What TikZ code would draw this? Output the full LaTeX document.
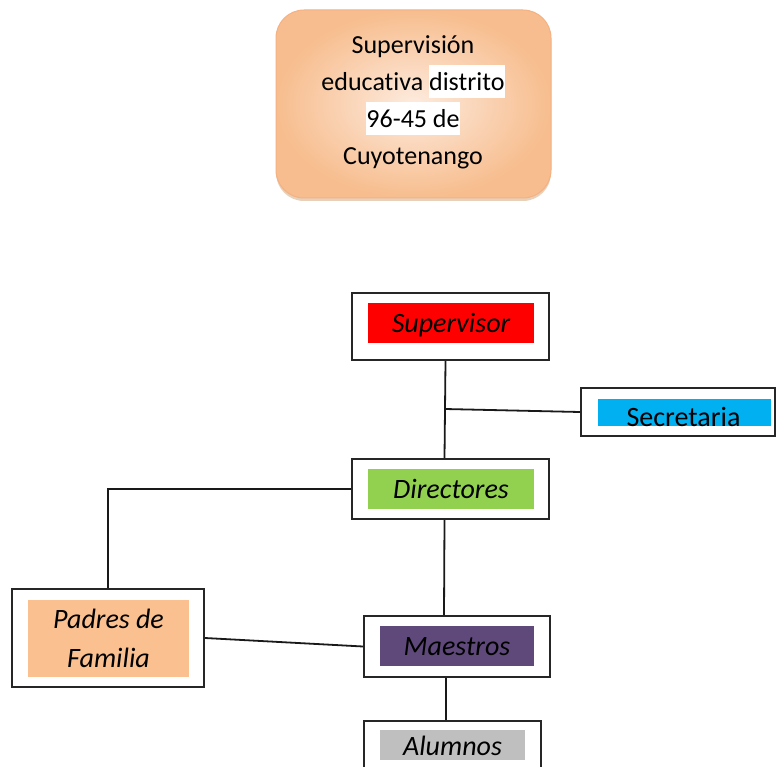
\documentclass[tikz,border=0pt]{standalone}
\usepackage{fontspec}
\setmainfont{Carlito}[Ligatures=NoCommon]
\usetikzlibrary{shadows}

\definecolor{naranjaClaro}{HTML}{FDEBDE}
\definecolor{naranjaFuerte}{HTML}{F7BD8E}
\definecolor{naranjaBorde}{HTML}{F4B183}
\definecolor{rojoSup}{HTML}{FF0000}
\definecolor{azulSec}{HTML}{00B0F0}
\definecolor{verdeDir}{HTML}{92D050}
\definecolor{moradoMae}{HTML}{5F497A}
\definecolor{durazno}{HTML}{FAC090}
\definecolor{grisAlu}{HTML}{BFBFBF}

% fondo blanco detras de una palabra
\newcommand{\resaltar}[1]{{\setlength{\fboxsep}{0pt}\colorbox{white}{\rule[-7pt]{0pt}{33pt}#1}}}

\begin{document}
\begin{tikzpicture}[x=1pt,y=-1pt,
		caja/.style={draw=black!85, line width=2pt, fill=white, inner sep=0pt},
		relleno/.style={inner sep=0pt, text height=18pt, text depth=0pt, font=\fontsize{28}{34}\selectfont\itshape},
		linea/.style={line width=1.8pt, black!90}]
		\clip (0,0) rectangle (776,767);
		% Recuadro de la supervision
		\node[draw=naranjaBorde, line width=1pt, rounded corners=28pt, minimum width=275pt, minimum height=188pt,
		inner color=naranjaClaro, outer color=naranjaFuerte,
		drop shadow={shadow xshift=0pt, shadow yshift=-3pt, fill=brown!60, opacity=0.6}] (dist) at (413.5,104) {};
		\node[align=center, font=\fontsize{26}{37}\selectfont] (disttxt) at (413,102.5)
		{Supervisión\\educativa \resaltar{distrito}\\\resaltar{96-45 de}\\Cuyotenango};
		% Cargos
		\node[caja, minimum width=197pt, minimum height=67pt] (sup) at (450.5,326.5) {};
		\node[relleno, fill=rojoSup, minimum width=166pt, minimum height=40pt] (supfill) at (451,323) {Supervisor};
		\node[caja, minimum width=194pt, minimum height=48pt] (sec) at (678,412) {};
		\node[fill=azulSec, inner sep=0pt, minimum width=173pt, minimum height=27pt] (secfill) at (684.5,412.5) {};
		\node[anchor=base, inner sep=0pt, font=\fontsize{28}{34}\selectfont] (sectxt) at (683.5,426) {Secretaria};
		\node[caja, minimum width=197pt, minimum height=60pt] (dir) at (450.5,489) {};
		\node[relleno, fill=verdeDir, minimum width=166pt, minimum height=40pt] (dirfill) at (451,489) {Directores};
		\node[caja, minimum width=192pt, minimum height=98pt] (pad) at (108,638) {};
		\node[relleno, fill=durazno, minimum width=161pt, minimum height=77pt, align=center, text height=, text depth=,
		font=\fontsize{28}{39}\selectfont\itshape] (padfill) at (108.5,638.5) {Padres de\\Familia};
		\node[caja, minimum width=186pt, minimum height=61pt] (mae) at (457,646.5) {};
		\node[relleno, fill=moradoMae, minimum width=154pt, minimum height=40pt] (maefill) at (457,646) {Maestros};
		\node[caja, minimum width=177pt, minimum height=61pt] (alu) at (452.5,751.5) {};
		\node[relleno, fill=grisAlu, minimum width=145pt, minimum height=30pt, text height=21pt, text depth=-3pt] (alufill) at (452.5,745) {Alumnos};
		% Lineas
		\coordinate (rama) at (445,409);
		\draw[linea] ([xshift=-5pt]sup.south) -- ([xshift=-6pt]dir.north);
		\draw[linea] (rama) -- (sec.west);
		\draw[linea] (dir.west) -| (pad.north);
		\draw[linea] ([xshift=-6pt]dir.south) -- ([xshift=-13pt]mae.north);
		\draw[linea] (pad.east) -- (mae.west);
		\draw[linea] ([xshift=-11pt]mae.south) -- ([xshift=-6.5pt]alu.north);
	\end{tikzpicture}
\end{document}
